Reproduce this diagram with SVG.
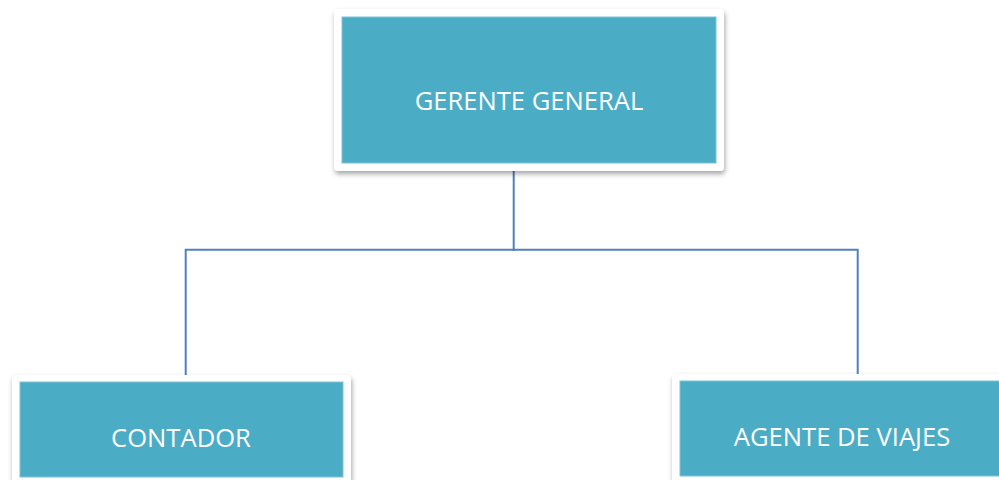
<svg xmlns="http://www.w3.org/2000/svg" width="999" height="480" viewBox="0 0 999 480">
<defs>
<filter id="sh" x="-10%" y="-10%" width="120%" height="130%">
<feDropShadow dx="1" dy="3" stdDeviation="2.5" flood-color="#000" flood-opacity="0.35"/>
</filter>
</defs>
<style>
.frame{fill:#ffffff;filter:url(#sh)}
.box{fill:#4BACC6;stroke:#7cc3d6;stroke-width:1}
.lbl{font-family:"Open Sans","Noto Sans",sans-serif;font-size:25.6px;fill:#ffffff;text-anchor:middle}
.conn{fill:none;stroke:#4F81BD;stroke-width:2}
</style>
<rect width="999" height="480" fill="#ffffff"/>
<g id="connectors">
<path class="conn" d="M513.7 171 V251"/>
<path class="conn" d="M185.7 375 V249.7 H857.7 V374"/>
</g>
<g id="gerente">
<rect class="frame" x="334" y="9" width="390" height="162" rx="4"/>
<rect class="box" x="342" y="17" width="374" height="146"/>
<text class="lbl" x="529" y="110">GERENTE GENERAL</text>
</g>
<g id="contador">
<rect class="frame" x="12" y="375" width="339" height="112" rx="4"/>
<rect class="box" x="20" y="382" width="323" height="95"/>
<text class="lbl" x="181" y="447">CONTADOR</text>
</g>
<g id="agente">
<rect class="frame" x="672" y="374" width="340" height="113" rx="4"/>
<rect class="box" x="680" y="381" width="330" height="95"/>
<text class="lbl" x="842" y="446">AGENTE DE VIAJES</text>
</g>
</svg>
